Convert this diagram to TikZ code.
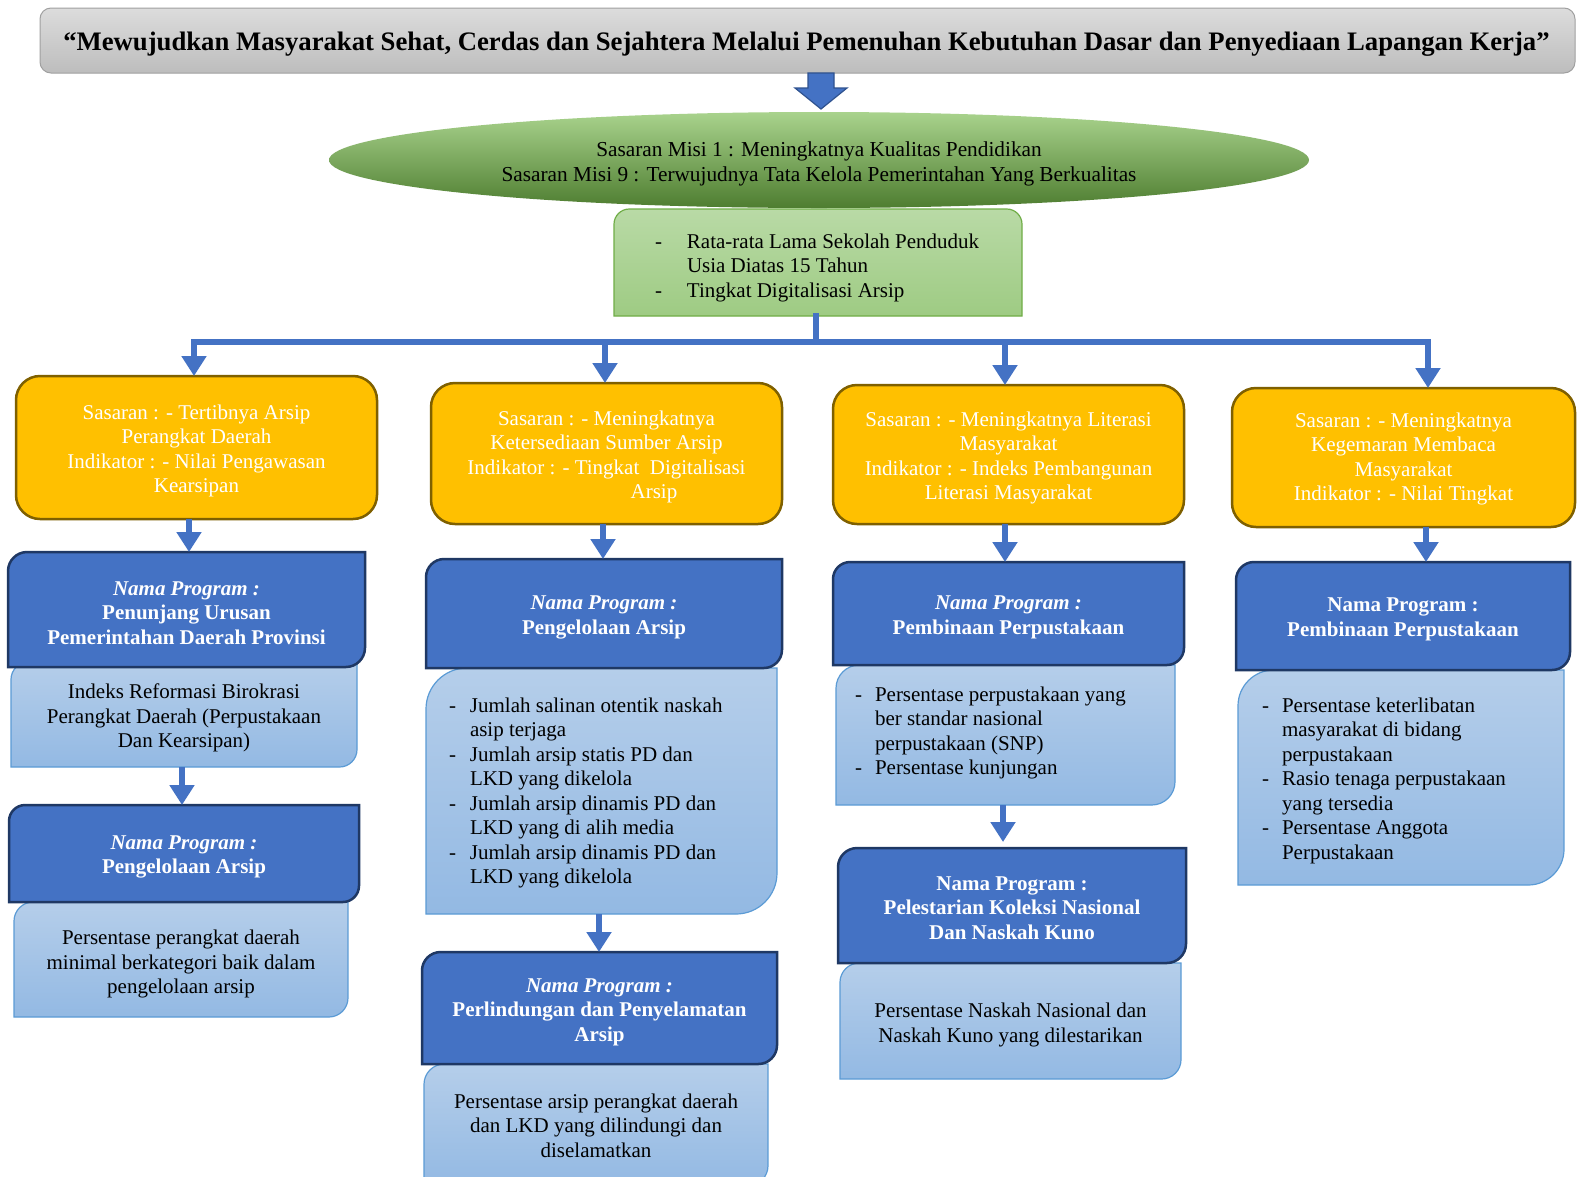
\documentclass[tikz,border=0pt]{standalone}
\usepackage{fontspec}
\setmainfont{Liberation Serif}
\usetikzlibrary{calc,arrows.meta,shapes.geometric}
\pgfdeclarelayer{bg}
\pgfsetlayers{bg,main}
\definecolor{tgTop}{HTML}{DCDCDC}
\definecolor{tgBot}{HTML}{BDBDBD}
\definecolor{tgBorder}{HTML}{A0A0A0}
\definecolor{blu}{HTML}{4472C4}
\definecolor{bluBorder}{HTML}{1F3864}
\definecolor{arrBorder}{HTML}{2F528F}
\definecolor{org}{HTML}{FFC000}
\definecolor{orgBorder}{HTML}{7F6000}
\definecolor{ltTop}{HTML}{B5CEEA}
\definecolor{ltBot}{HTML}{93B9E3}
\definecolor{ltBorder}{HTML}{5B9BD5}
\definecolor{gTop}{HTML}{B9DAA6}
\definecolor{gBot}{HTML}{9ECB83}
\definecolor{gBorder}{HTML}{70AD47}
\definecolor{eTop}{HTML}{A9D38D}
\definecolor{eMid}{HTML}{72AE48}
\definecolor{eBot}{HTML}{4E7D30}
\newcommand{\shTLBR}[2]{%
\path[#1] let \p1=(#2.north west), \p2=(#2.south east), \n1={min(\x2-\x1,\y1-\y2)/6} in
 (\x1,\y2) -- (\x1,\y1-\n1) arc[start angle=180,end angle=90,radius=\n1] -- (\x2,\y1)
 -- (\x2,\y2+\n1) arc[start angle=0,end angle=-90,radius=\n1] -- cycle;}
\newcommand{\shTop}[2]{%
\path[#1] let \p1=(#2.north west), \p2=(#2.south east), \n1={min(\x2-\x1,\y1-\y2)/7} in
 (\x1,\y2) -- (\x1,\y1-\n1) arc[start angle=180,end angle=90,radius=\n1] -- (\x2-\n1,\y1)
 arc[start angle=90,end angle=0,radius=\n1] -- (\x2,\y2) -- cycle;}
\newcommand{\dashlist}[2]{\begin{tabular}[t]{@{}p{#1}@{}l@{}}#2\end{tabular}}
\begin{document}
\begin{tikzpicture}[x=1pt,y=1pt,
 txt/.style={font=\fontsize{21}{24.5}\selectfont, align=center, inner sep=0pt, outer sep=0pt},
 frame/.style={inner sep=0pt, outer sep=0pt},
 listtxt/.style={font=\fontsize{21}{24.5}\selectfont, inner sep=0pt, outer sep=0pt, text=black},
 titlebox/.style={frame, rounded corners=11pt, draw=tgBorder, line width=1pt, top color=tgTop, bottom color=tgBot},
 titletxt/.style={font=\fontsize{26.7}{30}\selectfont\bfseries, inner sep=0pt},
 obox/.style={frame, rounded corners=24pt, draw=orgBorder, line width=2.5pt, fill=org},
 otxt/.style={txt, text=white},
 btxt/.style={txt, text=white, font=\fontsize{21}{24.5}\selectfont\bfseries},
 ltxt/.style={txt, text=black},
 bshape/.style={fill=blu, draw=bluBorder, line width=2.5pt},
 lshape/.style={draw=ltBorder, line width=1.2pt, top color=ltTop, bottom color=ltBot},
 gshape/.style={draw=gBorder, line width=1.2pt, top color=gTop, bottom color=gBot},
 arr/.style={draw=blu, line width=6pt, -{Triangle[width=24pt,length=20pt]}},
 bus/.style={draw=blu, line width=6pt, line cap=rect},
 blockarrow/.style={fill=blu, draw=arrBorder, line width=1.2pt, line join=miter}
]
\path[use as bounding box] (0,0) rectangle (1577,-1176);

% title and mission
\node[titlebox, minimum width=1535, minimum height=65] (title) at (807.5,-40.5) {};
\node[titletxt] (titlet) at ([xshift=-1,yshift=-3.5]title.center)
 {“Mewujudkan Masyarakat Sehat, Cerdas dan Sejahtera Melalui Pemenuhan Kebutuhan Dasar dan Penyediaan Lapangan Kerja”};
\node[ellipse, frame, minimum width=980, minimum height=96, top color=eTop, middle color=eMid, bottom color=eBot] (ell) at (819,-160) {};
\node[txt, font=\fontsize{21.3}{25}\selectfont] (ellt) at ([yshift=-3.5]ell.center)
 {Sasaran Misi 1 : Meningkatnya Kualitas Pendidikan\\Sasaran Misi 9 : Terwujudnya Tata Kelola Pemerintahan Yang Berkualitas};
\node[frame, minimum width=408, minimum height=107] (gbox) at (818,-262.5) {};
\node[listtxt, anchor=base west] (gt) at (655,-248)
 {\dashlist{32pt}{-& Rata-rata Lama Sekolah Penduduk\\ & Usia Diatas 15 Tahun\\ -& Tingkat Digitalisasi Arsip}};

% orange boxes
\node[obox, minimum width=361, minimum height=143] (o1) at (196.5,-447.5) {};
\node[otxt] (o1t) at ([yshift=-3.5]o1.center)
 {Sasaran : - Tertibnya Arsip\\Perangkat Daerah\\Indikator : - Nilai Pengawasan\\Kearsipan};
\node[obox, minimum width=351, minimum height=141] (o2) at (606.5,-453.5) {};
\node[otxt] (o2t) at ([yshift=-3.5]o2.center)
 {Sasaran : - Meningkatnya\\Ketersediaan Sumber Arsip\\Indikator : - Tingkat\ \ Digitalisasi\\\hspace*{95pt}Arsip};
\node[obox, minimum width=351, minimum height=139] (o3) at (1008.5,-454.5) {};
\node[otxt] (o3t) at ([yshift=-3.5]o3.center)
 {Sasaran : - Meningkatnya Literasi\\Masyarakat\\Indikator : - Indeks Pembangunan\\Literasi Masyarakat};
\node[obox, minimum width=343, minimum height=139] (o4) at (1403.5,-457.5) {};
\node[otxt] (o4t) at ([yshift=-1.5]o4.center)
 {Sasaran : - Meningkatnya\\Kegemaran Membaca\\Masyarakat\\Indikator : - Nilai Tingkat};

% blue program boxes
\node[frame, minimum width=357, minimum height=115] (b1) at (186.5,-609.5) {};
\node[btxt] (b1t) at ([yshift=-3.5]b1.center)
 {\textit{Nama Program :}\\Penunjang Urusan\\Pemerintahan Daerah Provinsi};
\node[frame, minimum width=356, minimum height=109] (b2) at (604,-613.5) {};
\node[btxt] (b2t) at ([yshift=-4]b2.center) {\textit{Nama Program :}\\Pengelolaan Arsip};
\node[frame, minimum width=351, minimum height=103] (b3) at (1008.5,-613.5) {};
\node[btxt] (b3t) at ([yshift=-4]b3.center) {\textit{Nama Program :}\\Pembinaan Perpustakaan};
\node[frame, minimum width=334, minimum height=108] (b4) at (1403,-616) {};
\node[btxt] (b4t) at ([yshift=-3.5]b4.center) {Nama Program :\\Pembinaan Perpustakaan};
\node[frame, minimum width=350, minimum height=97] (b5) at (184,-853.5) {};
\node[btxt] (b5t) at ([yshift=-3.5]b5.center) {\textit{Nama Program :}\\Pengelolaan Arsip};
\node[frame, minimum width=355, minimum height=112] (b6) at (599.5,-1008) {};
\node[btxt] (b6t) at ([yshift=-4]b6.center) {\textit{Nama Program :}\\Perlindungan dan Penyelamatan\\Arsip};
\node[frame, minimum width=348, minimum height=115] (b7) at (1012,-905.5) {};
\node[btxt] (b7t) at ([yshift=-2.5]b7.center) {Nama Program :\\Pelestarian Koleksi Nasional\\Dan Naskah Kuno};

% light indicator boxes
\node[frame, minimum width=346, minimum height=105] (l1) at (184,-714.5) {};
\node[ltxt] (l1t) at ([yshift=-3.5]l1.center)
 {Indeks Reformasi Birokrasi\\Perangkat Daerah (Perpustakaan\\Dan Kearsipan)};
\node[frame, minimum width=334, minimum height=115] (l5) at (181,-959.5) {};
\node[ltxt] (l5t) at ([yshift=-4.5]l5.center)
 {Persentase perangkat daerah\\minimal berkategori baik dalam\\pengelolaan arsip};
\node[frame, minimum width=351, minimum height=246] (l2) at (601.5,-791) {};
\node[listtxt, anchor=base west] (l2t) at (449,-712)
 {\dashlist{21pt}{-& Jumlah salinan otentik naskah\\ & asip terjaga\\ -& Jumlah arsip statis PD dan\\ & LKD yang dikelola\\
  -& Jumlah arsip dinamis PD dan\\ & LKD yang di alih media\\ -& Jumlah arsip dinamis PD dan\\ & LKD yang dikelola}};
\node[frame, minimum width=344, minimum height=122] (l6) at (596,-1125) {};
\node[ltxt] (l6t) at ([yshift=-0.5]l6.center)
 {Persentase arsip perangkat daerah\\dan LKD yang dilindungi dan\\diselamatkan};
\node[frame, minimum width=339, minimum height=140] (l3) at (1005.5,-735) {};
\node[listtxt, anchor=base west] (l3t) at (855,-701)
 {\dashlist{20pt}{-& Persentase perpustakaan yang\\ & ber standar nasional\\ & perpustakaan (SNP)\\ -& Persentase kunjungan}};
\node[frame, minimum width=341, minimum height=116] (l7) at (1010.5,-1021) {};
\node[ltxt] (l7t) at ([yshift=-4]l7.center)
 {Persentase Naskah Nasional dan\\Naskah Kuno yang dilestarikan};
\node[frame, minimum width=326, minimum height=215] (l4) at (1401,-777.5) {};
\node[listtxt, anchor=base west] (l4t) at (1262,-712)
 {\dashlist{20pt}{-& Persentase keterlibatan\\ & masyarakat di bidang\\ & perpustakaan\\ -& Rasio tenaga perpustakaan\\ & yang tersedia\\
  -& Persentase Anggota\\ & Perpustakaan}};

% shapes on background layer
\begin{pgfonlayer}{bg}
\fill[white] (0,0) rectangle (1577,-1176);
\begin{scope}
\clip (0,0) rectangle (1577,-1176);
\shTop{gshape}{gbox}
\shTLBR{lshape}{l1}
\shTLBR{lshape}{l5}
\shTLBR{lshape}{l2}
\shTLBR{lshape}{l6}
\shTLBR{lshape}{l3}
\shTLBR{lshape}{l7}
\shTLBR{lshape}{l4}
\shTLBR{bshape}{b1}
\shTLBR{bshape}{b2}
\shTLBR{bshape}{b3}
\shTLBR{bshape}{b4}
\shTLBR{bshape}{b5}
\shTLBR{bshape}{b6}
\shTLBR{bshape}{b7}
\end{scope}
\end{pgfonlayer}

% block arrow title -> ellipse
\coordinate (bt) at ($(title.south)+(13.5,0)$);
\path[blockarrow] ($(bt)+(-13,0)$) -- ++(0,-15) -- ++(-13,0) -- ++(26,-21) -- ++(26,21) -- ++(-13,0) -- ++(0,15) -- cycle;

% bus
\coordinate (busc) at (816,-342);
\coordinate (d1) at (194,-342);
\coordinate (d2) at (605,-342);
\coordinate (d3) at (1005,-342);
\coordinate (d4) at (1428,-342);
\draw[bus] (gbox.south -| busc) -- (busc);
\draw[bus] (d1) -- (d4);
\draw[arr] (d1) -- (d1 |- o1.north);
\draw[arr] (d2) -- (d2 |- o2.north);
\draw[arr] (d3) -- (d3 |- o3.north);
\draw[arr] (d4) -- (d4 |- o4.north);

% orange -> blue
\coordinate (a1) at ($(o1.south)+(-7.5,0)$);
\coordinate (a2) at ($(o2.south)+(-3.5,0)$);
\coordinate (a3) at ($(o3.south)+(-3.5,0)$);
\coordinate (a4) at ($(o4.south)+(22.5,0)$);
\draw[arr] (a1) -- (a1 |- b1.north);
\draw[arr] (a2) -- (a2 |- b2.north);
\draw[arr] (a3) -- (a3 |- b3.north);
\draw[arr] (a4) -- (a4 |- b4.north);

% light -> blue
\coordinate (c1) at ($(l1.south)+(-2,0)$);
\coordinate (c2) at ($(l2.south)+(-2.5,0)$);
\coordinate (c3) at ($(l3.south)+(-2.5,0)$);
\draw[arr] (c1) -- (c1 |- b5.north);
\draw[arr] (c2) -- (c2 |- b6.north);
\draw[arr] (c3) -- ($(c3 |- b7.north)+(0,6)$);
\end{tikzpicture}
\end{document}
